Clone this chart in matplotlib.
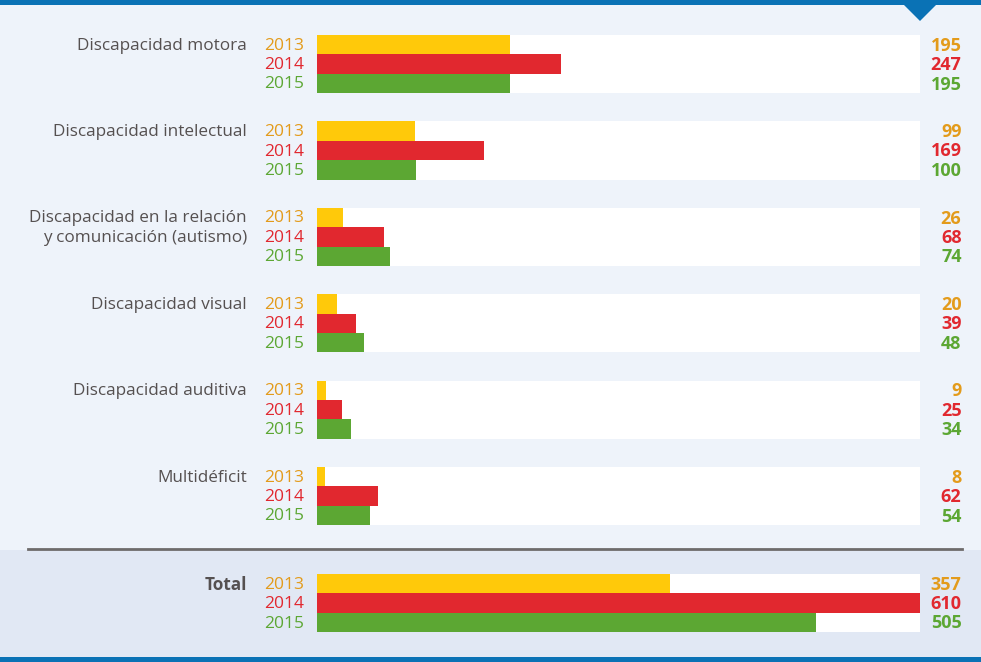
import matplotlib.pyplot as plt
from matplotlib.patches import Rectangle, Polygon

categories = ["Discapacidad motora", "Discapacidad intelectual",
              "Discapacidad en la relación\ny comunicación (autismo)",
              "Discapacidad visual", "Discapacidad auditiva", "Multidéficit"]
years = ["2013", "2014", "2015"]
v2013 = [195, 99, 26, 20, 9, 8]
v2014 = [247, 169, 68, 39, 25, 62]
v2015 = [195, 100, 74, 48, 34, 54]
total_label = "Total"
total = [357, 610, 505]

bar_colors = ["#ffc90a", "#e1282f", "#5ca733"]
text_colors = ["#e39b1b", "#e1282f", "#5ca733"]
bg = "#eef3fa"

W, H = 981, 662
fig = plt.figure(figsize=(W / 100, H / 100), dpi=100, facecolor=bg)
plt.rcParams['font.family'] = ['Open Sans', 'DejaVu Sans']

# decorations in pixel coords
def px(x, y, w, h, **kw):
    fig.patches.append(Rectangle((x / W, 1 - (y + h) / H), w / W, h / H,
                                 transform=fig.transFigure, **kw))

px(0, 550, W, 107, color="#e1e8f4", lw=0, zorder=-1)
px(0, 0, W, 5, color="#0a72b5", lw=0)
px(0, 657, W, 5, color="#0a72b5", lw=0)
fig.patches.append(Polygon([(903 / W, 1 - 4 / H), (937 / W, 1 - 4 / H), (920 / W, 1 - 21 / H)],
                           closed=True, transform=fig.transFigure, color="#0a72b5", lw=0))
fig.add_artist(plt.Line2D([28 / W, 962 / W], [1 - 549 / H, 1 - 549 / H],
                          transform=fig.transFigure, color="#6e6b6b", lw=2))

ax = fig.add_axes([317 / W, 0, 603 / W, 1])
ax.set_xlim(0, 610)
ax.set_ylim(H, 0)
ax.axis("off")
ax.patch.set_alpha(0)

row_h = 19.4
pitch = 86.4
tops = [35 + pitch * i for i in range(len(categories))] + [574]
series = [list(zip(v2013, v2014, v2015))[i] for i in range(len(categories))] + [tuple(total)]
labels = categories + [total_label]

for g, (top, vals, lab) in enumerate(zip(tops, series, labels)):
    ax.barh(top, 610, height=3 * row_h, align="edge", color="white", lw=0)
    is_total = g == len(categories)
    for j, v in enumerate(vals):
        yc = top + row_h * (j + 0.5)
        ax.barh(yc, v, height=row_h, color=bar_colors[j], lw=0)
        ax.text(-13, yc + 1, years[j], ha="right", va="center", color=text_colors[j], fontsize=12.5)
        ax.text(652, yc + 1, str(v), ha="right", va="center", color=text_colors[j],
                fontsize=13, fontweight="bold")
    for k, line in enumerate(lab.split("\n")):
        ax.text(-71, top + row_h * (k + 0.5) + 1, line, ha="right", va="center",
                color="#555050", fontsize=12.3,
                fontweight="bold" if is_total else "normal")

fig.savefig("out.png", dpi=100, facecolor=bg)
